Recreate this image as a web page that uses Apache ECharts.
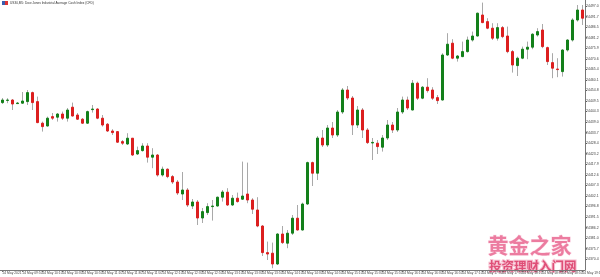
<!DOCTYPE html>
<html><head><meta charset="utf-8">
<script src="https://cdn.jsdelivr.net/npm/echarts@6/dist/echarts.min.js"></script>
<style>html,body{margin:0;padding:0;background:#fff}#c{width:600px;height:277px}</style>
</head><body><div id="c"></div>
<script>
const categories = [
'09:30','09:35','09:40','09:45','09:50','09:55',
'10:00','10:05','10:10','10:15','10:20','10:25','10:30','10:35','10:40','10:45','10:50','10:55',
'11:00','11:05','11:10','11:15','11:20','11:25','11:30','11:35','11:40','11:45','11:50','11:55',
'12:00','12:05','12:10','12:15','12:20','12:25','12:30','12:35','12:40','12:45','12:50','12:55',
'13:00','13:05','13:10','13:15','13:20','13:25','13:30','13:35','13:40','13:45','13:50','13:55',
'14:00','14:05','14:10','14:15','14:20','14:25','14:30','14:35','14:40','14:45','14:50','14:55',
'15:00','15:05','15:10','15:15','15:20','15:25','15:30','15:35','15:40','15:45','15:50','15:55',
'16:00','16:05','16:10','16:15','16:20','16:25','16:30','16:35','16:40','16:45','16:50','16:55',
'17:00','17:05','17:10','17:15','17:20','17:25','17:30','17:35','17:40','17:45','17:50','17:55',
'18:00','18:05','18:10','18:15','18:20','18:25','18:30','18:35','18:40','18:45','18:50','18:55',
'19:00','19:05','19:10'];

const openV = [
24448.7,24449.8,24450.0,24448.2,24448.4,24449.2,24453.7,24449.2,24438.4,24437.0,
24441.7,24441.4,24443.0,24440.9,24446.4,24442.5,24440.4,24438.4,24445.2,24445.5,
24440.9,24437.9,24434.5,24434.2,24429.2,24428.0,24430.9,24423.0,24424.7,24427.0,
24421.4,24422.5,24412.5,24415.4,24411.7,24409.0,24403.0,24405.0,24397.0,24399.0,
24391.0,24393.7,24396.7,24397.0,24401.4,24403.9,24397.5,24400.9,24400.4,24403.0,
24400.0,24395.0,24387.0,24373.7,24373.4,24368.0,24383.0,24378.4,24383.4,24390.9,
24385.0,24398.0,24418.7,24413.4,24431.0,24427.5,24436.0,24432.5,24444.0,24455.0,
24451.0,24437.5,24445.0,24435.0,24428.5,24428.4,24426.4,24431.0,24437.5,24435.0,
24444.0,24450.0,24445.0,24458.4,24450.9,24456.4,24455.0,24451.2,24450.0,24472.5,
24478.4,24470.9,24471.7,24474.2,24480.0,24482.0,24492.5,24489.2,24485.9,24480.9,
24486.2,24482.0,24474.2,24467.2,24470.9,24475.4,24476.4,24482.5,24485.0,24476.2,
24468.7,24465.5,24464.2,24475.0,24480.0,24490.0,24495.0];

const closeV = [
24450.0,24450.0,24448.0,24448.5,24449.5,24453.7,24448.7,24438.7,24436.7,24440.9,
24440.9,24443.0,24440.9,24445.0,24442.0,24440.4,24438.4,24444.2,24445.5,24440.9,
24437.5,24434.5,24433.7,24428.9,24428.4,24430.9,24422.5,24424.7,24427.0,24421.4,
24422.5,24412.5,24415.4,24411.7,24409.0,24403.5,24405.0,24397.5,24399.0,24391.0,
24394.2,24396.7,24397.0,24401.4,24404.0,24397.5,24400.9,24399.2,24402.0,24400.0,
24395.4,24387.0,24373.7,24373.0,24368.0,24383.0,24378.7,24383.4,24390.9,24385.0,
24398.0,24418.7,24413.4,24431.0,24427.5,24436.0,24432.5,24444.0,24455.0,24451.0,
24437.5,24445.0,24435.0,24428.7,24428.8,24426.7,24431.0,24437.5,24435.0,24444.0,
24450.0,24446.0,24458.4,24450.9,24456.4,24454.7,24450.9,24449.7,24472.5,24477.9,
24470.9,24472.0,24474.2,24480.0,24482.0,24493.4,24488.7,24485.9,24480.9,24486.2,
24481.7,24474.2,24467.5,24470.9,24475.4,24476.4,24482.9,24484.2,24476.7,24469.2,
24465.9,24465.2,24475.0,24480.0,24490.0,24495.0,24490.9];

const lowV = [
24448.0,24448.4,24445.0,24448.0,24448.0,24447.5,24445.0,24438.4,24434.2,24436.7,
24440.0,24439.2,24440.0,24439.2,24441.7,24440.0,24438.0,24438.0,24443.7,24440.4,
24436.7,24434.0,24432.5,24428.5,24427.5,24427.5,24422.0,24422.5,24424.2,24418.7,
24415.9,24411.7,24411.7,24410.9,24408.0,24402.5,24400.0,24396.5,24395.5,24387.5,
24388.5,24392.5,24389.7,24396.7,24399.2,24397.0,24397.0,24398.7,24400.0,24398.4,
24393.0,24386.4,24372.0,24370.0,24365.9,24367.5,24378.0,24375.9,24382.5,24384.7,
24384.7,24397.5,24407.0,24410.0,24426.5,24426.5,24431.0,24431.5,24443.0,24450.0,
24432.5,24436.0,24431.0,24428.0,24420.0,24423.0,24424.2,24430.0,24433.5,24434.0,
24443.0,24445.0,24444.8,24450.0,24450.4,24453.7,24450.0,24448.0,24449.7,24472.0,
24470.4,24469.2,24471.4,24473.7,24479.2,24481.7,24488.4,24485.4,24480.0,24479.7,
24480.9,24473.4,24463.7,24462.0,24470.4,24470.4,24475.4,24481.7,24475.9,24467.5,
24460.9,24461.4,24461.7,24474.2,24479.2,24489.2,24487.5];

const highV = [
24451.0,24450.9,24450.5,24449.0,24454.0,24455.0,24454.2,24451.7,24439.2,24441.7,
24443.5,24443.5,24444.2,24446.0,24448.7,24443.5,24441.0,24444.7,24447.5,24445.9,
24442.5,24438.5,24435.4,24434.5,24430.0,24433.4,24431.0,24426.7,24428.4,24428.4,
24425.9,24423.0,24416.7,24415.8,24412.5,24410.0,24414.0,24406.0,24400.5,24400.0,
24396.0,24398.4,24400.0,24401.7,24405.0,24405.9,24402.5,24403.7,24419.2,24418.7,
24400.9,24401.4,24387.5,24379.2,24378.7,24383.4,24387.0,24385.0,24392.5,24397.5,
24398.7,24419.2,24419.2,24432.0,24435.0,24437.5,24439.0,24445.0,24456.0,24457.0,
24452.0,24447.0,24446.0,24436.0,24431.0,24430.0,24432.5,24440.0,24439.0,24446.0,
24451.7,24451.7,24460.0,24459.2,24457.0,24460.9,24456.4,24452.5,24473.4,24483.4,
24480.4,24472.5,24479.2,24481.7,24484.2,24493.7,24498.7,24490.9,24488.4,24488.4,
24487.0,24486.7,24475.0,24471.7,24476.7,24479.2,24483.4,24485.9,24488.0,24476.7,
24473.4,24470.9,24475.4,24480.4,24490.9,24497.5,24497.5];

const yTickValues = [24497.0,24491.7,24486.5,24481.2,24475.9,24470.6,24465.4,24460.1,24454.8,
24449.5,24444.3,24439.0,24433.7,24428.4,24423.2,24417.9,24412.6,24407.3,24402.1,24396.8,
24391.5,24386.2,24381.0,24375.7,24370.4];

const titleText = 'US30,M5: Dow Jones Industrial Average Cash Index (CFD)';
const firstDateLabel = '24 May 2021';
const dayPrefix = '24 May ';

const wickData = categories.map((_, i) => [openV[i], closeV[i], lowV[i], highV[i]]);
const bodyData = categories.map((_, i) => [openV[i], closeV[i], Math.min(openV[i], closeV[i]), Math.max(openV[i], closeV[i])]);

const chart = echarts.init(document.getElementById('c'), null, {renderer: 'canvas'});
chart.setOption({
  animation: false,
  backgroundColor: '#ffffff',
  grid: {left: 0, right: 15, top: 0, bottom: 7, containLabel: false, outerBoundsMode: 'none'},
  xAxis: {
    type: 'category', data: categories, boundaryGap: true,
    axisLine: {show: true, onZero: false, lineStyle: {color: '#777', width: 1}},
    axisTick: {show: true, interval: 3, alignWithLabel: true, length: 2, lineStyle: {color: '#777'}},
    axisLabel: {interval: 3, align: 'left', fontSize: 3.3, color: '#444', margin: 2,
      fontFamily: 'Liberation Sans',
      formatter: (v, idx) => idx === 0 ? firstDateLabel : dayPrefix + v},
    splitLine: {show: false}
  },
  yAxis: {
    type: 'value', position: 'right', min: 24365, max: 24500, scale: true,
    axisLine: {show: true, lineStyle: {color: '#777', width: 1}},
    axisTick: {show: true, customValues: yTickValues, length: 2, lineStyle: {color: '#777'}},
    axisLabel: {customValues: yTickValues, fontSize: 3.5, color: '#444', margin: 1,
      fontFamily: 'Liberation Sans', formatter: v => Number(v).toFixed(1)},
    splitLine: {show: false}
  },
  series: [
    {type: 'candlestick', name: 'wick', data: wickData, barWidth: 1,
      itemStyle: {color: '#a9a9a9', color0: '#a9a9a9', borderColor: '#a9a9a9', borderColor0: '#a9a9a9', borderWidth: 1}},
    {type: 'candlestick', name: 'body', data: bodyData, barWidth: 3,
      itemStyle: {color: '#13801a', color0: '#dc1f1f', borderColor: '#13801a', borderColor0: '#dc1f1f', borderWidth: 1}}
  ],
  graphic: [
    {type: 'rect', left: 2, top: 1, shape: {width: 3, height: 4}, style: {fill: '#3a5fb0'}},
    {type: 'rect', left: 5, top: 1, shape: {width: 3, height: 4}, style: {fill: '#d33'}},
    {type: 'text', left: 10, top: 1.5, style: {text: titleText, fontSize: 3.2, fill: '#333', fontFamily: 'Liberation Sans'}},
    {type: 'text', left: 487, top: 234, style: {text: '黄金之家', fontSize: 21, fill: '#ec7ca0', stroke: '#fde3ec', lineWidth: 1, fontFamily: 'Noto Sans CJK SC', fontWeight: 'bold'}},
    {type: 'text', left: 488, top: 259, style: {text: '投资理财入门网', fontSize: 12.5, fill: '#df4f78', stroke: '#f7c2d2', lineWidth: 2, fontFamily: 'Noto Sans CJK SC', fontWeight: 'bold'}}
  ]
});
</script></body></html>
